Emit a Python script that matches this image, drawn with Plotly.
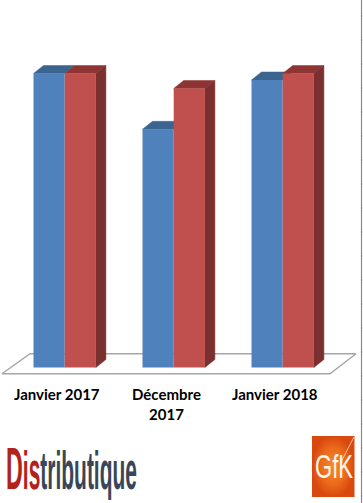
import plotly.graph_objects as go

categories = ["Janvier 2017", "Décembre<br>2017", "Janvier 2018"]
series_blue = [100.0, 81.0, 97.8]
series_red = [100.0, 94.9, 100.0]

W, H = 363, 503
PX_X = 109.0      # pixels per category
PX_Y = 2.94       # pixels per value unit
X0 = 64.7         # pixel of first category centre
Y0 = 367.5        # pixel of value 0
BAR = 31.2 / PX_X
DX, DY = 10 / PX_X, 8 / PX_Y

BLUE, BLUE_TOP = "#4F81BD", "#3B6490"
RED, RED_TOP, RED_SIDE = "#C0504D", "#8E3533", "#7A302E"

xs = list(range(len(categories)))
xrange_ = [-X0 / PX_X, (W - X0) / PX_X]
yrange_ = [-(H - Y0) / PX_Y, Y0 / PX_Y]


def px(x):
    return (x - X0) / PX_X


def py(y):
    return (Y0 - y) / PX_Y


def poly(x, y, color, line=None):
    return go.Scatter(x=x, y=y, mode="lines", fill="toself", fillcolor=color,
                      line=dict(color=line or color, width=0.5 if not line else 1.4),
                      hoverinfo="skip", showlegend=False)


fig = go.Figure()

# floor of the 3D plot
fig.add_trace(poly([px(2), px(330), px(356), px(30), px(2)],
                   [py(373.7), py(373.7), py(353.7), py(353.7), py(373.7)],
                   "#FFFFFF", "#A6A6A6"))

# right-hand frame line and its faint ticks (spreadsheet edge in the picture)
fig.add_trace(go.Scatter(x=[px(361.5), px(361.5)], y=[py(0), py(503)], mode="lines",
                         line=dict(color="#8C8C8C", width=1.2),
                         hoverinfo="skip", showlegend=False))
for t in range(16, 503, 24):
    fig.add_trace(go.Scatter(x=[px(362), px(363)], y=[py(t), py(t)], mode="lines",
                             line=dict(color="#C8C8C8", width=1),
                             hoverinfo="skip", showlegend=False))

for i in xs:
    b, r = series_blue[i], series_red[i]
    fig.add_trace(poly([i - BAR, i, i + DX, i - BAR + DX, i - BAR],
                       [b, b, b + DY, b + DY, b], BLUE_TOP))
    fig.add_trace(poly([i, i + BAR, i + BAR + DX, i + DX, i],
                       [r, r, r + DY, r + DY, r], RED_TOP))
    fig.add_trace(poly([i + BAR, i + BAR + DX, i + BAR + DX, i + BAR, i + BAR],
                       [0, DY, r + DY, r, 0], RED_SIDE))

# front faces live on an overlaying subplot so they sit over the 3D faces
for i in xs:
    fig.add_trace(go.Bar(x=[i], y=[series_blue[i]], width=BAR, offset=-BAR,
                         marker=dict(color=BLUE, line_width=0), xaxis="x2", yaxis="y2",
                         hoverinfo="skip", showlegend=False))
    fig.add_trace(go.Bar(x=[i], y=[series_red[i]], width=BAR, offset=0,
                         marker=dict(color=RED, line_width=0), xaxis="x2", yaxis="y2",
                         hoverinfo="skip", showlegend=False))

# GfK logo box with gradient
fig.add_trace(go.Scatter(
    x=[px(312), px(354.5), px(354.5), px(312), px(312)],
    y=[py(436), py(436), py(497), py(497), py(436)],
    mode="lines", line=dict(width=0), fill="toself",
    fillgradient=dict(type="radial",
                      colorscale=[[0, "#F68A2C"], [0.6, "#EC6A1C"], [1, "#D9480F"]]),
    hoverinfo="skip", showlegend=False))
fig.add_trace(go.Scatter(x=[px(341), px(354)], y=[py(462), py(437)], mode="lines",
                         line=dict(color="rgba(255,225,190,0.8)", width=1),
                         hoverinfo="skip", showlegend=False))

fig.update_layout(
    width=W, height=H, margin=dict(l=0, r=0, t=0, b=0),
    paper_bgcolor="white", plot_bgcolor="rgba(0,0,0,0)",
    showlegend=False, barmode="overlay",
    xaxis=dict(range=xrange_, visible=False, fixedrange=True),
    yaxis=dict(range=yrange_, visible=False, fixedrange=True),
    xaxis2=dict(range=xrange_, visible=False, fixedrange=True, overlaying="x"),
    yaxis2=dict(range=yrange_, visible=False, fixedrange=True, overlaying="y"),
)

label_pos = [(57, 394), (166, 403.5), (275, 394)]
for c, (lx, ly) in zip(categories, label_pos):
    fig.add_annotation(x=px(lx), y=py(ly), xref="x", yref="y", showarrow=False, align="center",
                       text=f"<b>{c}</b>", font=dict(family="Lato", size=15, color="#000000"))

fig.add_annotation(x=px(6), y=py(468), xref="x", yref="y", xanchor="left", showarrow=False,
                   text="<span style='color:#B0221A;font-size:60px'><b>D</b></span>"
                        "<span style='color:#B0221A'><b>is</b></span>"
                        "<span style='color:#3A4657'><b>tributique</b></span>",
                   font=dict(family="Liberation Sans", size=54))
fig.add_annotation(x=px(334), y=py(466.5), xref="x", yref="y", showarrow=False,
                   text="GfK", font=dict(family="Liberation Sans", size=33, color="#FFF6EC"))

# Condense the logo texts horizontally to their width in the picture
post = """
document.body.style.margin = '0';
document.body.style.overflow = 'hidden';
function fit(word, left, width) {
  document.querySelectorAll('.annotation-text').forEach(function (el) {
    if (el.textContent !== word) return;
    var sx = width / el.getBoundingClientRect().width;
    el.setAttribute('transform', 'scale(' + sx + ',1)');
    var dx = left - el.getBoundingClientRect().left;
    el.setAttribute('transform', 'translate(' + dx + ',0) scale(' + sx + ',1)');
  });
}
fit('Distributique', 6, 131);
fit('GfK', 315, 38);
"""
fig.write_html("out.html", config=dict(displayModeBar=False), post_script=post)
